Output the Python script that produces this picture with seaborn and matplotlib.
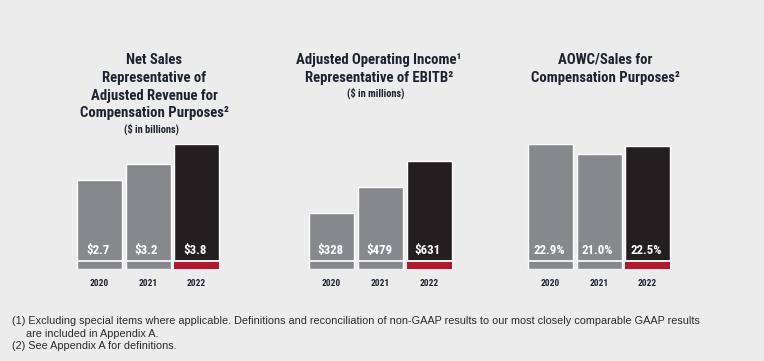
import matplotlib
matplotlib.use("Agg")
import matplotlib.pyplot as plt
import seaborn as sns
import pandas as pd
from matplotlib import font_manager as fm
from matplotlib.patches import Rectangle
from matplotlib.transforms import blended_transform_factory

# ---- data ----
years = ["2020", "2021", "2022"]
net_sales = [2.7, 3.2, 3.8]
op_income = [328, 479, 631]
aowc_sales = [22.9, 21.0, 22.5]
net_sales_labels = ["$2.7", "$3.2", "$3.8"]
op_income_labels = ["$328", "$479", "$631"]
aowc_labels = ["22.9%", "21.0%", "22.5%"]

titles = [
    ["Net Sales", "Representative of", "Adjusted Revenue for", "Compensation Purposes²"],
    ["Adjusted Operating Income¹", "Representative of EBITB²"],
    ["AOWC/Sales for", "Compensation Purposes²"],
]
subtitles = ["($ in billions)", "($ in millions)", None]
footnotes = [
    "(1) Excluding special items where applicable. Definitions and reconciliation of non-GAAP results to our most closely comparable GAAP results",
    "are included in Appendix A.",
    "(2) See Appendix A for definitions.",
]

# ---- style ----
BG = "#ececec"
GRAY = "#87888b"
BLACK = "#231f20"
RED = "#b2182b"
TXT = "#1d2130"

sns.set_style("white")
avail = {f.name for f in fm.fontManager.ttflist}
FAM = "Liberation Sans"
STRETCH = "normal"
for cand in ["Roboto Condensed", "Liberation Sans Narrow", "Open Sans Condensed",
             "DejaVu Sans Condensed", "Noto Sans Condensed"]:
    if cand in avail:
        FAM = cand
        break
else:
    if any(f.name == "DejaVu Sans" and str(f.stretch) == "condensed"
           for f in fm.fontManager.ttflist):
        FAM, STRETCH = "DejaVu Sans", "condensed"
plt.rcParams["font.family"] = [FAM, "DejaVu Sans"]
plt.rcParams["font.stretch"] = STRETCH
FOOT_FAM = ["Liberation Sans", "DejaVu Sans"]

W, H = 764, 361
fig = plt.figure(figsize=(W / 100, H / 100), dpi=100)
fig.patch.set_facecolor(BG)
renderer = fig.canvas.get_renderer()


def fit_size(text, target_px, weight, base=10.0, cap=None, family=None, stretch=STRETCH):
    kw = {} if family is None else {"family": family}
    t = fig.text(0, 0, text, fontsize=base, fontweight=weight, fontstretch=stretch, **kw)
    w = t.get_window_extent(renderer).width
    t.remove()
    s = base * target_px / w
    if cap is not None:
        s = min(s, cap)
    return s


TITLE_FS = fit_size("Compensation Purposes²", 148, "bold", cap=11)
SUB_FS = fit_size("($ in billions)", 57, "bold", cap=7.5)
VAL_FS = fit_size("22.9%", 31.5, "bold", cap=10.5)
YEAR_FS = fit_size("2020", 19, "bold", cap=7.5)
FOOT_FS = fit_size(footnotes[0], 688, "normal", cap=8.5, family=FOOT_FAM, stretch="normal")


def px_axes(left, right, top, bottom):
    return fig.add_axes([left / W, 1 - bottom / H, (right - left) / W, (bottom - top) / H])


panels = [
    (net_sales, net_sales_labels, (75.25, 220.75), 3.8),
    (op_income, op_income_labels, (307.25, 453.75), 730.3),
    (aowc_sales, aowc_labels, (526.25, 671.75), 22.9),
]
AX_TOP, AX_BOT = 144, 269
AX_H = AX_BOT - AX_TOP

title_rows = [[60, 78, 96, 113], [60, 78], [60, 78]]
sub_rows = [129, 93, None]
title_cx = [154, 379, 605]

for i, (vals, labs, (l, r), ytop) in enumerate(panels):
    ax = px_axes(l, r, AX_TOP, AX_BOT)
    ax.set_facecolor("none")
    df = pd.DataFrame({"year": years, "value": vals})
    sns.barplot(data=df, x="year", y="value", hue="year", palette=[GRAY, GRAY, BLACK],
                width=45 / 48.5, saturation=1, legend=False, ax=ax)
    ax.set_ylim(0, ytop)
    ax.set_xlim(-0.5, 2.5)
    ax.set_yticks([])
    ax.set_xlabel("")
    ax.set_ylabel("")
    for s in ax.spines.values():
        s.set_visible(False)
    ax.tick_params(axis="x", length=0, pad=7, labelsize=YEAR_FS, labelcolor=TXT)
    for t in ax.get_xticklabels():
        t.set_fontweight("bold")
        t.set_fontstretch(STRETCH)
    tr = blended_transform_factory(ax.transData, ax.transAxes)
    bars = sorted(ax.patches, key=lambda p: p.get_x())
    for j, p in enumerate(bars):
        x0, w = p.get_x(), p.get_width()
        ax.add_patch(Rectangle((x0, 7 / AX_H), w, 2 / AX_H, transform=tr,
                               facecolor=BG, edgecolor="none", zorder=5))
        if j == len(bars) - 1:
            ax.add_patch(Rectangle((x0, 0), w, 7 / AX_H, transform=tr,
                                   facecolor=RED, edgecolor="none", zorder=5))
        ax.text(x0 + w / 2 - 0.03, (AX_BOT - 250.5) / AX_H, labs[j], transform=tr, ha="center",
                va="center", color="white", fontsize=VAL_FS, fontweight="bold",
                fontstretch=STRETCH, zorder=6)

    cx = title_cx[i]
    for line, y in zip(titles[i], title_rows[i]):
        fig.text(cx / W, 1 - y / H, line, ha="center", va="center", fontsize=TITLE_FS,
                 fontweight="bold", fontstretch=STRETCH, color=TXT)
    if subtitles[i]:
        fig.text((cx - 3) / W, 1 - sub_rows[i] / H, subtitles[i], ha="center", va="center",
                 fontsize=SUB_FS, fontweight="bold", fontstretch=STRETCH, color=TXT)

for line, x, y in zip(footnotes, [12, 26, 12], [321, 334, 346]):
    fig.text(x / W, 1 - y / H, line, ha="left", va="center", fontsize=FOOT_FS,
             family=FOOT_FAM, color="#2a2a2a")

fig.savefig("out.png", dpi=100, facecolor=BG)
